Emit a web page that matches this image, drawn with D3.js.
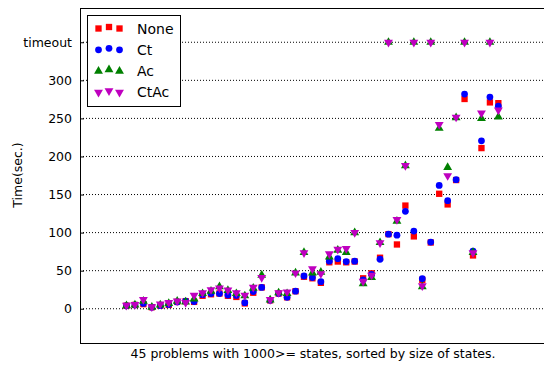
<!DOCTYPE html>
<html>
<head>
<meta charset="utf-8">
<script src="https://cdn.jsdelivr.net/npm/d3@7"></script>
<style>
  body { margin: 0; background: #fff; }
  svg { font-family: "DejaVu Sans", sans-serif; }
</style>
</head>
<body>
<svg id="chart" width="544" height="365"></svg>
<script>
// 45 problems, sorted by size of states; 350 == timeout
const problems = d3.range(45);
const seriesNames = ['None', 'Ct', 'Ac', 'CtAc'];
const noneTimes = [4, 5, 6, 2, 4, 5, 9, 10, 9, 17, 19, 20, 17, 15.5, 7, 21, 28, 11, 20, 15, 23, 42, 40, 34, 61,
  62, 61, 62, 40, 46.5, 67, 98, 84.4, 135.5, 95, 38, 87, 151, 137, 169, 275.5, 70, 211, 271, 270];
const ctTimes = [4, 5, 7, 2, 4, 5.5, 9, 10, 9.5, 18.5, 20, 20, 18, 17.5, 8, 22.5, 28, 11, 20, 15, 23, 43, 41, 35.5, 62.5,
  65.7, 62, 62.5, 38, 45, 65, 98, 96.6, 128, 102, 39.5, 87.5, 162, 142, 169.5, 282, 75.7, 220.5, 278, 266];
const acTimes = [4, 5, 10, 2, 5, 7, 10, 9, 13, 20, 23, 29, 24, 20, 17, 27, 44, 11.5, 21, 20, 47, 74, 47, 48, 68,
  77, 74, 100, 33, 41, 87, 350, 115, 188, 350, 29, 350, 237, 185.6, 251, 350, 74, 250, 350, 252];
const ctacTimes = [4.5, 5.5, 12, 2.5, 6, 8, 10, 8, 17.5, 21, 25, 27, 24.5, 21, 17.5, 28, 41, 12, 21, 22, 47, 73.5, 52.5, 46, 72,
  78, 79, 100, 36, 44, 86.6, 350, 117, 188, 350, 30, 350, 242, 174.7, 251.5, 350, 73.5, 257, 350, 261];
const yTickValues = [0, 50, 100, 150, 200, 250, 300, 350];
const yTickLabels = ['0', '50', '100', '150', '200', '250', '300', 'timeout'];

const allSeries = [noneTimes, ctTimes, acTimes, ctacTimes];
const colors = ['#ff0000', '#0000ff', '#008000', '#bf00bf'];
const shapes = [
  d3.symbol().type(d3.symbolSquare).size(40),
  d3.symbol().type(d3.symbolCircle).size(36),
  d3.symbol().type(d3.symbolTriangle).size(34),
  d3.symbol().type(d3.symbolTriangle).size(34)
];

const plotLeft = 80, plotRight = 544, plotTop = 8, plotBottom = 343;
const svg = d3.select('#chart');

const x = d3.scaleLinear().domain([-5.5, 49.4]).range([plotLeft, plotRight]);
const y = d3.scaleLinear().domain([-45, 395]).range([plotBottom, plotTop]);

// dotted grid at y ticks
svg.append('g')
  .selectAll('line')
  .data(yTickValues)
  .enter()
  .append('line')
  .attr('x1', plotLeft)
  .attr('x2', plotRight)
  .attr('y1', d => y(d))
  .attr('y2', d => y(d))
  .attr('stroke', '#000')
  .attr('stroke-width', 1)
  .attr('stroke-dasharray', '1,2');

// y axis (ticks point inward)
const yAxis = svg.append('g')
  .attr('transform', 'translate(' + plotLeft + ',0)')
  .call(d3.axisLeft(y).tickValues(yTickValues).tickFormat((d, i) => yTickLabels[i]).tickSizeInner(-4).tickSizeOuter(0).tickPadding(8));
yAxis.select('.domain').remove();
yAxis.selectAll('text').attr('font-size', 12.5).attr('fill', '#000').attr('font-family', '"DejaVu Sans", sans-serif');
yAxis.selectAll('line').attr('stroke', '#000');

// markers
allSeries.forEach((vals, s) => {
  svg.append('g')
    .selectAll('path')
    .data(problems)
    .enter()
    .append('path')
    .attr('d', shapes[s])
    .attr('transform', i => 'translate(' + x(i) + ',' + y(vals[i]) + ')' + (s === 3 ? ' rotate(180)' : ''))
    .attr('fill', colors[s]);
});

// frame
svg.append('rect')
  .attr('x', plotLeft + 0.5).attr('y', plotTop + 0.5)
  .attr('width', plotRight - plotLeft).attr('height', plotBottom - plotTop)
  .attr('fill', 'none').attr('stroke', '#000').attr('stroke-width', 1);

// legend
const legend = svg.append('g');
legend.append('rect')
  .attr('x', 87.5).attr('y', 15.5).attr('width', 93).attr('height', 91)
  .attr('fill', '#fff').attr('stroke', '#000').attr('stroke-width', 1);
seriesNames.forEach((name, s) => {
  const ly = 28.5 + s * 21.3;
  [98.5, 109, 119.5].forEach((mx, k) => {
    legend.append('path')
      .attr('d', shapes[s])
      .attr('transform', 'translate(' + mx + ',' + (ly + (k === 1 ? -1.5 : 0)) + ')' + (s === 3 ? ' rotate(180)' : ''))
      .attr('fill', colors[s]);
  });
  legend.append('text')
    .attr('x', 137).attr('y', ly + 5)
    .attr('font-size', 14)
    .text(name);
});

// axis titles
svg.append('text')
  .attr('transform', 'translate(22,175) rotate(-90)')
  .attr('text-anchor', 'middle')
  .attr('font-size', 12.5)
  .text('Time(sec.)');

svg.append('text')
  .attr('x', 313).attr('y', 358)
  .attr('text-anchor', 'middle')
  .attr('font-size', 12.5)
  .text('45 problems with 1000>= states, sorted by size of states.');
</script>
</body>
</html>
